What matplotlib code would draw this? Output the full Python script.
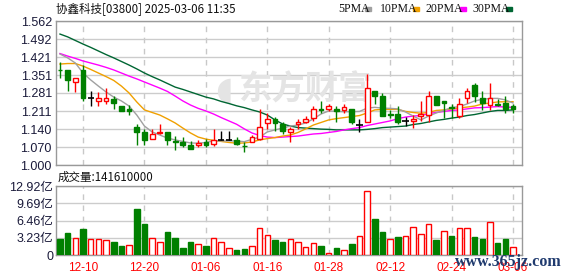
import matplotlib
matplotlib.use("Agg")
import matplotlib.pyplot as plt
import numpy as np

W, H = 578, 276

# daily candles (HKD), 2024-12-05 .. 2025-03-06
opens = [1.371, 1.371, 1.323, 1.371, 1.260, 1.251, 1.251, 1.258, 1.230, 1.217,
         1.148, 1.128, 1.100, 1.124, 1.128, 1.094, 1.090, 1.078, 1.079, 1.090,
         1.081, 1.096, 1.096, 1.098, 1.075, 1.090, 1.100, 1.163, 1.180, 1.159,
         1.130, 1.160, 1.169, 1.182, 1.219, 1.217, 1.220, 1.215, 1.217, 1.156,
         1.169, 1.289, 1.269, 1.200, 1.199, 1.172, 1.172, 1.192, 1.196, 1.269,
         1.250, 1.227, 1.192, 1.263, 1.312, 1.260, 1.234, 1.238, 1.243, 1.230]
closes = [1.369, 1.332, 1.338, 1.263, 1.260, 1.260, 1.260, 1.241, 1.212, 1.212,
          1.130, 1.098, 1.120, 1.129, 1.098, 1.091, 1.079, 1.062, 1.087, 1.077,
          1.099, 1.096, 1.096, 1.083, 1.073, 1.108, 1.147, 1.178, 1.163, 1.133,
          1.141, 1.168, 1.180, 1.217, 1.215, 1.229, 1.212, 1.228, 1.169, 1.156,
          1.299, 1.270, 1.192, 1.197, 1.169, 1.172, 1.181, 1.198, 1.268, 1.233,
          1.241, 1.224, 1.238, 1.289, 1.270, 1.241, 1.260, 1.234, 1.219, 1.220]
highs = [1.401, 1.371, 1.338, 1.390, 1.289, 1.286, 1.299, 1.269, 1.232, 1.234,
         1.159, 1.141, 1.141, 1.159, 1.128, 1.112, 1.108, 1.094, 1.098, 1.100,
         1.141, 1.133, 1.131, 1.108, 1.091, 1.118, 1.219, 1.202, 1.186, 1.167,
         1.149, 1.178, 1.191, 1.230, 1.250, 1.238, 1.230, 1.238, 1.217, 1.178,
         1.354, 1.289, 1.282, 1.215, 1.232, 1.189, 1.195, 1.250, 1.289, 1.269,
         1.250, 1.238, 1.260, 1.299, 1.321, 1.289, 1.321, 1.256, 1.269, 1.238]
lows = [1.341, 1.289, 1.284, 1.251, 1.230, 1.230, 1.238, 1.219, 1.212, 1.195,
        1.078, 1.078, 1.100, 1.121, 1.078, 1.060, 1.070, 1.062, 1.071, 1.071,
        1.075, 1.096, 1.096, 1.078, 1.052, 1.088, 1.098, 1.141, 1.133, 1.121,
        1.091, 1.142, 1.163, 1.173, 1.202, 1.212, 1.169, 1.202, 1.160, 1.130,
        1.169, 1.238, 1.192, 1.182, 1.160, 1.152, 1.143, 1.172, 1.169, 1.233,
        1.182, 1.182, 1.182, 1.241, 1.247, 1.215, 1.215, 1.230, 1.202, 1.202]

ma5 = [1.433, 1.418, 1.398, 1.359, 1.332, 1.308, 1.285, 1.265, 1.250, 1.230,
       1.195, 1.152, 1.129, 1.117, 1.105, 1.098, 1.092, 1.086, 1.085, 1.088,
       1.094, 1.094, 1.094, 1.094, 1.091, 1.100, 1.109, 1.129, 1.137, 1.144,
       1.152, 1.156, 1.164, 1.180, 1.199, 1.211, 1.209, 1.208, 1.208, 1.209,
       1.222, 1.225, 1.222, 1.221, 1.219, 1.207, 1.191, 1.176, 1.191, 1.203,
       1.213, 1.224, 1.228, 1.238, 1.250, 1.256, 1.260, 1.260, 1.254, 1.242]
ma10 = [1.394, 1.396, 1.396, 1.386, 1.373, 1.359, 1.345, 1.330, 1.308, 1.281,
        1.246, 1.215, 1.205, 1.195, 1.180, 1.164, 1.144, 1.125, 1.109, 1.101,
        1.096, 1.092, 1.088, 1.085, 1.086, 1.090, 1.098, 1.103, 1.107, 1.113,
        1.117, 1.127, 1.141, 1.156, 1.166, 1.176, 1.181, 1.185, 1.189, 1.193,
        1.203, 1.215, 1.217, 1.217, 1.217, 1.209, 1.205, 1.202, 1.205, 1.213,
        1.215, 1.219, 1.223, 1.226, 1.230, 1.238, 1.242, 1.246, 1.247, 1.247]
ma20 = [1.435, 1.425, 1.416, 1.406, 1.398, 1.390, 1.381, 1.371, 1.359, 1.347,
        1.336, 1.324, 1.312, 1.300, 1.287, 1.269, 1.250, 1.234, 1.221, 1.211,
        1.199, 1.185, 1.172, 1.159, 1.141, 1.125, 1.115, 1.109, 1.107, 1.109,
        1.111, 1.113, 1.117, 1.121, 1.123, 1.127, 1.131, 1.137, 1.142, 1.146,
        1.154, 1.160, 1.166, 1.172, 1.181, 1.187, 1.191, 1.193, 1.201, 1.205,
        1.209, 1.213, 1.215, 1.219, 1.223, 1.224, 1.226, 1.228, 1.226, 1.225]
ma30 = [1.511, 1.500, 1.486, 1.472, 1.459, 1.445, 1.431, 1.418, 1.404, 1.390,
        1.375, 1.359, 1.345, 1.332, 1.318, 1.304, 1.295, 1.285, 1.275, 1.265,
        1.258, 1.248, 1.240, 1.231, 1.224, 1.215, 1.207, 1.195, 1.176, 1.160,
        1.152, 1.146, 1.144, 1.142, 1.140, 1.139, 1.137, 1.137, 1.137, 1.137,
        1.139, 1.142, 1.146, 1.148, 1.150, 1.152, 1.158, 1.162, 1.168, 1.174,
        1.178, 1.183, 1.187, 1.193, 1.197, 1.203, 1.209, 1.213, 1.213, 1.215]

# volume in 亿 shares
vols = [3.00, 4.17, 3.12, 4.87, 2.93, 2.93, 2.81, 2.50, 1.68, 1.81,
        8.61, 5.80, 3.12, 2.43, 4.31, 3.18, 1.31, 2.43, 2.06, 1.68,
        3.12, 2.43, 1.25, 0.94, 1.12, 1.62, 5.00, 3.68, 2.81, 2.43,
        2.93, 2.43, 1.44, 2.18, 1.68, 0.37, 1.31, 0.94, 2.06, 3.56,
        11.92, 6.74, 4.37, 2.93, 3.37, 3.56, 5.24, 3.93, 5.80, 2.81,
        4.43, 3.56, 5.00, 5.00, 3.37, 3.00, 6.12, 2.25, 3.00, 1.4161]
vol_up = [0, 0, 1, 0, 1, 1, 1, 0, 0, 1, 0, 0, 1, 1, 0, 0, 0, 0, 1, 0,
          1, 1, 1, 0, 0, 1, 1, 1, 0, 0, 1, 1, 1, 1, 0, 1, 0, 1, 0, 1,
          1, 0, 0, 1, 0, 1, 1, 1, 1, 0, 1, 0, 1, 1, 0, 0, 1, 0, 0, 1]

tick_idx = [3, 11, 19, 27, 35, 43, 51, 59]
tick_lbl = ['12-10', '12-20', '01-06', '01-16', '01-28', '02-12', '02-24', '03-06']
price_lbl = ['1.000', '1.070', '1.140', '1.211', '1.281', '1.351', '1.421', '1.492', '1.562']
vol_ticks = [0, 3.23, 6.46, 9.69, 12.92]
vol_lbl = ['0', '3.23亿', '6.46亿', '9.69亿', '12.92亿']

RED = '#ff0000'
GREEN = '#008000'
LBL = '#1a1a3a'
CJK = ['Noto Sans CJK SC', 'DejaVu Sans']
LAT = ['Liberation Sans', 'Noto Sans CJK SC']


def box(l, t, r, b):
    return [l / W, 1 - b / H, (r - l) / W, (b - t) / H]


fig = plt.figure(figsize=(W / 100, H / 100), dpi=100)
ax = fig.add_axes(box(56, 21, 522, 165))
axv = fig.add_axes(box(56, 186, 522, 255))

x = np.arange(len(opens))
o = np.array(opens)
c = np.array(closes)
col = np.where(c > o, RED, np.where(c < o, GREEN, '#000000'))

for a in (ax, axv):
    a.set_xlim(-0.52, 60.17)
    for s in a.spines.values():
        s.set_color('#999999')
        s.set_linewidth(1)
    a.set_xticks(tick_idx)
    a.tick_params(length=0)
    a.grid(axis='y', color='#cccccc', lw=1)
    a.grid(axis='x', color='#c8c8c8', lw=1, ls=(0, (4, 4)))
    a.set_axisbelow(True)

# price panel
ax.set_ylim(1.000, 1.562)
ax.set_yticks(np.linspace(1.000, 1.562, 9))
ax.set_yticklabels(price_lbl, family=LAT, fontsize=9, color=LBL)
ax.tick_params(axis='y', pad=3)
ax.set_xticklabels([])

# watermark
ax.text(0.535, 0.52, '东方财富', transform=ax.transAxes, fontsize=24, color='#e4e4e4',
        family=CJK, fontweight='bold', ha='center', va='center', style='italic', zorder=1)
ax.text(0.36, 0.52, '◖', transform=ax.transAxes, fontsize=24, color='#e4e4e4',
        family='DejaVu Sans', ha='center', va='center', zorder=1)

ax.plot(x, ma30, color='#006633', lw=1, zorder=4)
ax.plot(x, ma20, color='#ff00ff', lw=1, zorder=4)
ax.plot(x, ma10, color='#f0a000', lw=1, zorder=4)
ax.plot(x, ma5, color='#a0a0a0', lw=1, zorder=4)

ax.vlines(x, lows, highs, colors=col, lw=1, zorder=5)
for i in x:
    lo, hi = min(o[i], c[i]), max(o[i], c[i])
    h = max(hi - lo, 0.0005)
    if col[i] == RED:
        ax.bar(i, h, bottom=lo, width=0.62, facecolor='white', edgecolor=RED, lw=1, zorder=6)
    elif col[i] == GREEN:
        ax.bar(i, h, bottom=lo, width=0.62, facecolor=GREEN, edgecolor=GREEN, lw=1, zorder=6)
    else:
        ax.hlines(c[i], i - 0.4, i + 0.4, colors='#000000', lw=1.2, zorder=6)

# volume panel
axv.set_ylim(0, 12.92)
axv.set_yticks(vol_ticks)
axv.set_yticklabels(vol_lbl, family=LAT, fontsize=9, color=LBL)
axv.tick_params(axis='y', pad=2)
axv.set_xticklabels(tick_lbl, family=LAT, fontsize=8.5, color=RED)
axv.tick_params(axis='x', pad=5)
for i in x:
    if vol_up[i]:
        axv.bar(i, vols[i], width=0.72, facecolor='white', edgecolor=RED, lw=1, zorder=3)
    else:
        axv.bar(i, vols[i], width=0.72, facecolor=GREEN, edgecolor=GREEN, lw=1, zorder=3)

# header texts
fig.text(56 / W, 1 - 9 / H, '协鑫科技[03800] 2025-03-06 11:35', family=CJK, fontsize=8.3,
         color='#111111', va='center')
legend = [('5PMA', '#a0a0a0', 338, 365), ('10PMA', '#f0a000', 380, 413),
          ('20PMA', '#ff00ff', 425, 460), ('30PMA', '#006633', 472, 506)]
for name, cl, px, sq_x in legend:
    fig.text(px / W, 1 - 9 / H, name, family='Liberation Serif', fontsize=8.5,
             color='#111111', va='center')
    fig.patches.append(plt.Rectangle((sq_x / W, 1 - 11 / H), 6 / W, 4 / H,
                                     transform=fig.transFigure, color=cl, figure=fig))

fig.text(58 / W, 1 - 177 / H, '成交量:141610000', family=CJK, fontsize=8.3,
         color='#111111', va='center')
fig.text(455 / W, 1 - 262 / H, 'www.365jz.com', family='Liberation Serif', fontsize=11.5,
         fontweight='bold', color='#1f3a6e', va='center')

fig.savefig('out.png', dpi=100)
